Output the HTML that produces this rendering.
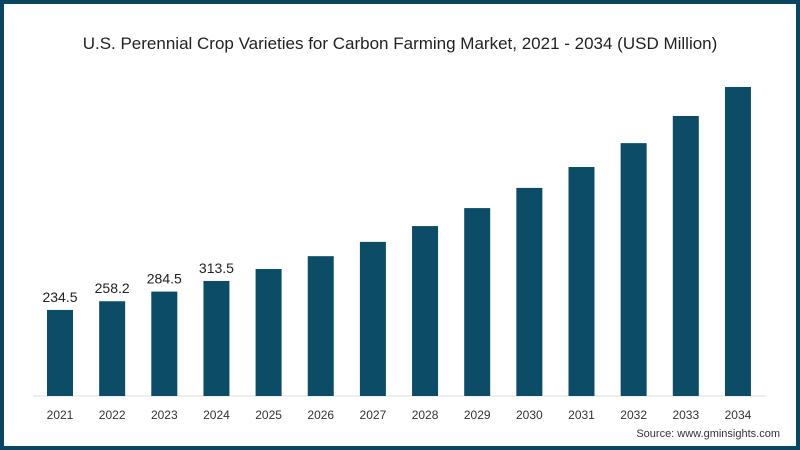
<!DOCTYPE html>
<html><head><meta charset="utf-8"><style>
html,body{margin:0;padding:0;background:#fff}
#wrap{position:relative;width:800px;height:450px;box-sizing:border-box;border:4px solid #0b4660;background:#fff;overflow:hidden;font-family:"Liberation Sans",sans-serif}
svg text{font-family:"Liberation Sans",sans-serif}
</style></head><body>
<div id="wrap">
<svg id="chart" width="792" height="442" viewBox="4 4 792 442">
<text x="400" y="49" text-anchor="middle" font-size="17" fill="#222">U.S. Perennial Crop Varieties for Carbon Farming Market, 2021 - 2034 (USD Million)</text>
<line x1="33" y1="396" x2="766" y2="396" stroke="#ddd" stroke-width="1"/>
<g id="bars"></g>
<text x="780" y="437" text-anchor="end" font-size="11" fill="#333">Source: www.gminsights.com</text>
</svg>
</div>
<script>
const categories=["2021","2022","2023","2024","2025","2026","2027","2028","2029","2030","2031","2032","2033","2034"];
const values=[234.5,258.2,284.5,313.5,346,381,420,463,512,567,624,689,763,842];
const labels=["234.5","258.2","284.5","313.5","","","","","","","","","",""];
const baseY=396, pxPerUnit=0.367, x0=60, step=52.15, bw=26;
function xScale(i){return x0+i*step;}
function yScale(v){return baseY-v*pxPerUnit;}
const g=document.getElementById('bars');
const ns="http://www.w3.org/2000/svg";
categories.forEach((c,i)=>{
  const r=document.createElementNS(ns,'rect');
  
  
  r.setAttribute('x',xScale(i)-bw/2);
  r.setAttribute('y',yScale(values[i]));
  r.setAttribute('width',bw);
  r.setAttribute('height',baseY-yScale(values[i]));
  r.setAttribute('fill','#0c4c67');
  g.appendChild(r);
  const t=document.createElementNS(ns,'text');
  
  
  t.setAttribute('x',xScale(i));
  t.setAttribute('y',419);
  t.setAttribute('text-anchor','middle');
  t.setAttribute('font-size','12');
  t.setAttribute('fill','#333');
  t.textContent=c;
  g.appendChild(t);
  if(labels[i]){
    const l=document.createElementNS(ns,'text');
    
    
    l.setAttribute('x',xScale(i));
    l.setAttribute('y',yScale(values[i])-8);
    l.setAttribute('text-anchor','middle');
    l.setAttribute('font-size','14');
    l.setAttribute('fill','#222');
    l.textContent=labels[i];
    g.appendChild(l);
  }
});
</script>
</body></html>
